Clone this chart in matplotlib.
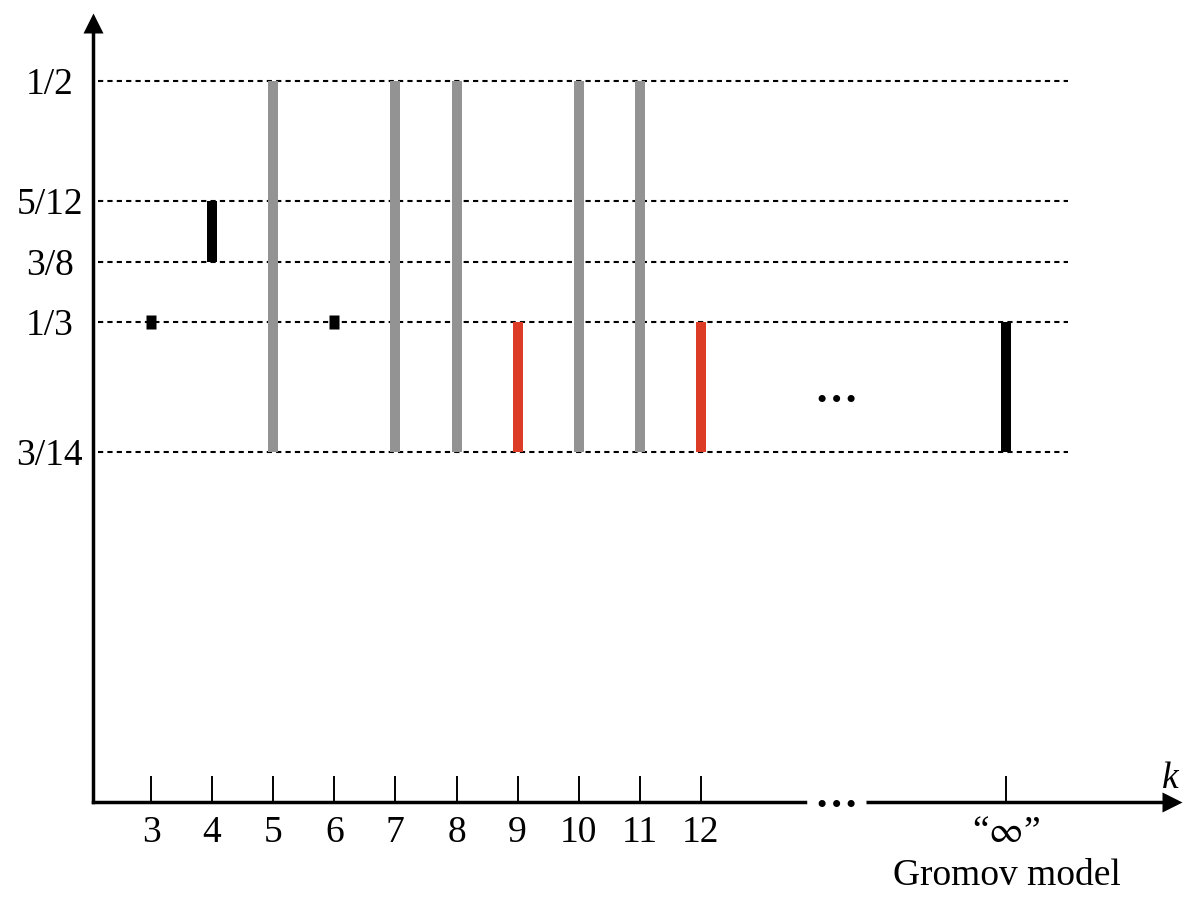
import numpy as np
import matplotlib
matplotlib.use('Agg')
import matplotlib.pyplot as plt

plt.rcParams['font.family'] = ['Liberation Serif', 'DejaVu Serif']
plt.rcParams['mathtext.fontset'] = 'stix'

# data
k_ticks = [3, 4, 5, 6, 7, 8, 9, 10, 11, 12]
k_inf = 17
tick_labels = ['3', '4', '5', '6', '7', '8', '9', '10', '11', '12']
inf_label = '\u201c$\\infty$\u201d'
inf_caption = 'Gromov model'

levels = [1/2, 5/12, 3/8, 1/3, 3/14]
level_labels = ['1/2', '5/12', '3/8', '1/3', '3/14']

bar_k = [3, 4, 5, 6, 7, 8, 9, 10, 11, 12, k_inf]
bar_lo = [1/3, 3/8, 3/14, 1/3, 3/14, 3/14, 3/14, 3/14, 3/14, 3/14, 3/14]
bar_hi = [1/3, 5/12, 1/2, 1/3, 1/2, 1/2, 1/3, 1/2, 1/2, 1/3, 1/3]
bar_kind = ['point', 'black', 'gray', 'point', 'gray', 'gray', 'red',
            'gray', 'gray', 'red', 'black']
kind_color = {'black': 'black', 'gray': '#939393', 'red': '#dc3b26', 'point': 'black'}

# non-linear y scale (piecewise, so the levels are spread like the original)
knot_v = [-1.0, 0.0, 3/14, 1/3, 3/8, 5/12, 1/2, 1.5]
knot_d = [-1633, 0, 350, 480, 540, 601, 721, 1721]
fwd = lambda v: np.interp(v, knot_v, knot_d)
inv = lambda d: np.interp(d, knot_d, knot_v)

fig = plt.figure(figsize=(12, 8.98), dpi=100)
ax = fig.add_axes([0, 0, 1, 1])
ax.set_yscale('function', functions=(fwd, inv))
ax.set_xlim(0.5287, 20.168)
ax.set_ylim(inv(-96), inv(802))
ax.axis('off')

fs = 27
x0 = 2.05
# dotted level lines
for lv, lab in zip(levels, level_labels):
    ax.plot([2.13, 18.0], [lv, lv], color='black', lw=1.5, ls=(0, (2.5, 2)),
            dash_capstyle='butt', zorder=1)
    ax.text(1.34, inv(fwd(lv) - 4), lab, fontsize=fs, ha='center', va='center')

# bars
for k, lo, hi, kind in zip(bar_k, bar_lo, bar_hi, bar_kind):
    c = kind_color[kind]
    if kind == 'point':
        ax.plot([k], [lo], marker=[(-0.75, -1), (0.75, -1), (0.75, 1), (-0.75, 1)],
                ms=9.4, color=c, mec='none', ls='none', zorder=3)
    else:
        ax.vlines(k, lo, hi, colors=c, lw=7.2, capstyle='butt', zorder=3)

# axes with arrows
ax_lw = 2.5
ax.plot([x0, x0], [0, inv(780)], color='black', lw=ax_lw, solid_capstyle='projecting')
ax.plot([x0], [inv(779.5)], marker='^', ms=14.4, color='black', mec='none')
ax.plot([x0, 13.70], [0, 0], color='black', lw=ax_lw, solid_capstyle='projecting')
ax.plot([14.70, 19.6], [0, 0], color='black', lw=ax_lw, solid_capstyle='butt')
ax.plot([19.71], [0], marker='>', ms=14.4, color='black', mec='none')
ax.text(14.21, inv(-5), '\u2026', fontsize=31, ha='center', va='baseline',
        fontweight='bold')
ax.text(19.68, inv(23), 'k', fontsize=fs, style='italic', ha='center', va='center')

# ticks and labels
for k, lab in zip(k_ticks + [k_inf], tick_labels + [inf_label]):
    ax.plot([k, k], [0, inv(26)], color='black', lw=1.4, solid_capstyle='butt')
    ax.text(k, inv(-31), lab, fontsize=fs, ha='center', va='center')
ax.text(k_inf, inv(-74), inf_caption, fontsize=fs, ha='center', va='center')

# dots in the plot area
ax.text(14.21, inv(400), '\u2026', fontsize=31, ha='center', va='baseline',
        fontweight='bold')

fig.savefig('out.png', dpi=100)
